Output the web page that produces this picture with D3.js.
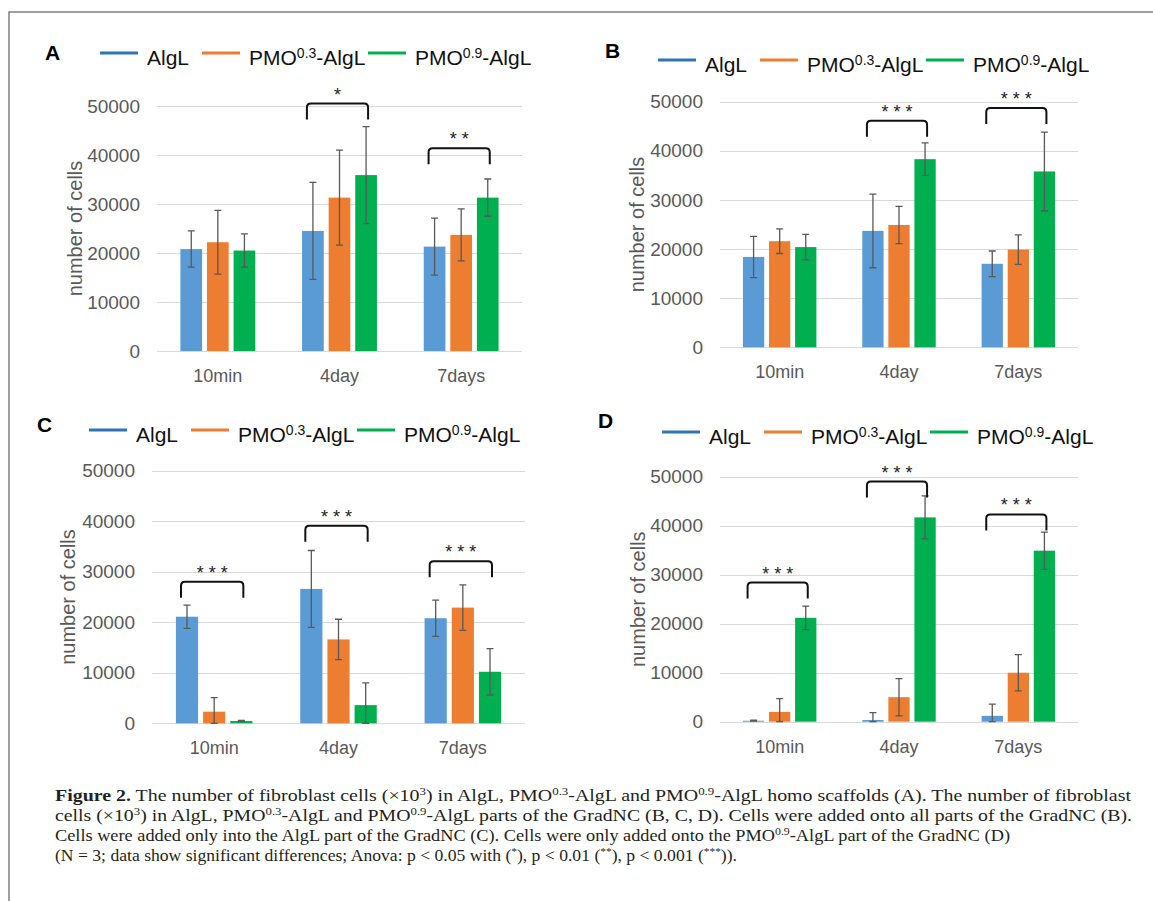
<!DOCTYPE html>
<html>
<head>
<meta charset="utf-8">
<script src="https://cdn.jsdelivr.net/npm/d3@7"></script>
<style>
  body { margin: 0; background: #fff; }
  svg { display: block; font-family: Arial, "Liberation Sans", sans-serif; }
</style>
</head>
<body>
<svg id="fig" width="1153" height="901"></svg>
<script>
// ---- data ----
const categories = ['10min', '4day', '7days'];
const seriesKeys = ['AlgL', 'PMO0.3-AlgL', 'PMO0.9-AlgL'];
// legend labels split as [before, superscript, after]
const seriesLabels = [['AlgL', '', ''], ['PMO', '0.3', '-AlgL'], ['PMO', '0.9', '-AlgL']];
const yTicks = [0, 10000, 20000, 30000, 40000, 50000];

// rows follow categories, columns follow seriesKeys
const valuesA = [[20800, 22200, 20500], [24500, 31300, 35900], [21300, 23700, 31300]];
const errorsA = [[3700, 6500, 3400], [9900, 9700, 9900], [5800, 5300, 3800]];
const bracketsA = [{ cat: '4day', level: 50500, stars: '*' }, { cat: '7days', level: 41400, stars: '**' }];

const valuesB = [[18400, 21600, 20400], [23700, 24900, 38300], [17000, 19900, 35800]];
const errorsB = [[4200, 2500, 2600], [7500, 3800, 3300], [2600, 3000, 8000]];
const bracketsB = [{ cat: '4day', level: 46100, stars: '***' }, { cat: '7days', level: 48700, stars: '***' }];

const valuesC = [[21100, 2300, 450], [26600, 16600, 3600], [20800, 22900, 10200]];
const errorsC = [[2300, 2800, 100], [7600, 4000, 4400], [3600, 4500, 4600]];
const bracketsC = [{ cat: '10min', level: 28000, stars: '***' }, { cat: '4day', level: 39100, stars: '***' }, { cat: '7days', level: 32100, stars: '***' }];

const valuesD = [[200, 2000, 21200], [350, 5000, 41700], [1200, 10000, 34900]];
const errorsD = [[100, 2700, 2400], [1500, 3800, 4400], [2400, 3700, 3800]];
const bracketsD = [{ cat: '10min', level: 28400, stars: '***' }, { cat: '4day', level: 49000, stars: '***' }, { cat: '7days', level: 42300, stars: '***' }];

// ---- styling / layout ----
const barColors = ['#5b9bd5', '#ed7d31', '#00b050'];
const legendColors = ['#2e75b6', '#ed7d31', '#00b050'];
const axisGray = '#595959';
const gridGray = '#d9d9d9';
const legendOffsets = [0, 102, 268];

const panels = [
    { key: 'A', values: valuesA, errors: errorsA, brackets: bracketsA,
      letter: [45, 60], legend: { x: 100, lineY: 53, textY: 65 },
      plot: { x0: 157, x1: 522, top: 106, bottom: 351 }, ylabelX: 75 },
    { key: 'B', values: valuesB, errors: errorsB, brackets: bracketsB,
      letter: [605, 58], legend: { x: 658, lineY: 60, textY: 72 },
      plot: { x0: 720, x1: 1078, top: 101.7, bottom: 347.3 }, ylabelX: 637 },
    { key: 'C', values: valuesC, errors: errorsC, brackets: bracketsC,
      letter: [37, 432], legend: { x: 89, lineY: 430, textY: 442 },
      plot: { x0: 152, x1: 525, top: 470.7, bottom: 723.3 }, ylabelX: 68 },
    { key: 'D', values: valuesD, errors: errorsD, brackets: bracketsD,
      letter: [598, 428], legend: { x: 662, lineY: 432, textY: 443.5 },
      plot: { x0: 720, x1: 1078, top: 476.7, bottom: 721.7 }, ylabelX: 638 }
];

const svg = d3.select('#fig');

// figure frame (top and left edges only are visible in the crop)
svg.append('path')
    .attr('d', 'M9,901 V12 H1153')
    .attr('fill', 'none')
    .attr('stroke', '#808080')
    .attr('stroke-width', 1.5);

function drawPanel(p) {
    const g = svg.append('g').attr('class', 'panel-' + p.key);

    const y = d3.scaleLinear().domain([0, 50000]).range([p.plot.bottom, p.plot.top]);
    const x0 = d3.scaleBand().domain(categories).range([p.plot.x0, p.plot.x1]);
    const x1 = d3.scaleBand().domain(seriesKeys).range([0, x0.bandwidth()])
        .paddingInner(0.184).paddingOuter(0.88);

    // gridlines
    g.append('g').selectAll('line')
        .data(yTicks)
        .join('line')
        .attr('x1', p.plot.x0).attr('x2', p.plot.x1)
        .attr('y1', d => Math.round(y(d)) + 0.5).attr('y2', d => Math.round(y(d)) + 0.5)
        .attr('stroke', gridGray).attr('stroke-width', 1);

    // y axis labels (axis generator, domain and ticks hidden)
    const yAxis = d3.axisLeft(y).tickValues(yTicks).tickSize(0).tickPadding(17).tickFormat(d3.format('d'));
    const ya = g.append('g').attr('transform', `translate(${p.plot.x0},0)`).call(yAxis);
    ya.select('.domain').remove();
    ya.selectAll('text').attr('fill', axisGray).style('font-size', '19px').style('font-family', 'Arial, "Liberation Sans", sans-serif');

    // x axis labels
    const xAxis = d3.axisBottom(x0).tickSize(0).tickPadding(0);
    const xa = g.append('g').attr('transform', `translate(0,${p.plot.bottom})`).call(xAxis);
    xa.select('.domain').remove();
    xa.selectAll('text').attr('fill', axisGray).attr('dy', null).attr('y', 31)
        .style('font-size', '18px').style('font-family', 'Arial, "Liberation Sans", sans-serif');

    // y axis title
    g.append('text')
        .attr('transform', `translate(${p.ylabelX},${(p.plot.top + p.plot.bottom) / 2}) rotate(-90)`)
        .attr('text-anchor', 'middle')
        .attr('dominant-baseline', 'central')
        .attr('fill', axisGray)
        .style('font-size', '20px')
        .text('number of cells');

    // bars
    const rows = [];
    categories.forEach((c, i) => {
        seriesKeys.forEach((s, j) => {
            rows.push({ cat: c, series: s, j, value: p.values[i][j], err: p.errors[i][j] });
        });
    });

    g.append('g').selectAll('rect')
        .data(rows)
        .join('rect')
        .attr('x', d => x0(d.cat) + x1(d.series))
        .attr('y', d => y(d.value))
        .attr('width', x1.bandwidth())
        .attr('height', d => y(0) - y(d.value))
        .attr('fill', d => barColors[d.j]);

    // error bars
    const eb = g.append('g').attr('stroke', axisGray).attr('stroke-width', 1.3).attr('fill', 'none');
    const cx = d => x0(d.cat) + x1(d.series) + x1.bandwidth() / 2;
    const hi = d => y(d.value + d.err);
    const lo = d => y(Math.max(0, d.value - d.err));
    eb.selectAll('path')
        .data(rows)
        .join('path')
        .attr('d', d => `M${cx(d)},${hi(d)}V${lo(d)}M${cx(d) - 3.5},${hi(d)}H${cx(d) + 3.5}M${cx(d) - 3.5},${lo(d)}H${cx(d) + 3.5}`);

    // significance brackets
    const bg = g.append('g');
    p.brackets.forEach(b => {
        const left = x0(b.cat) + x1(seriesKeys[0]) + x1.bandwidth() / 2 - 6;
        const right = x0(b.cat) + x1(seriesKeys[2]) + x1.bandwidth() / 2 + 2;
        const top = y(b.level);
        const leg = top + 16, r = 4;
        bg.append('path')
            .attr('d', `M${left},${leg}V${top + r}Q${left},${top} ${left + r},${top}H${right - r}Q${right},${top} ${right},${top + r}V${leg}`)
            .attr('fill', 'none')
            .attr('stroke', '#111')
            .attr('stroke-width', 2);
        bg.append('text')
            .attr('x', (left + right) / 2)
            .attr('y', top - 3)
            .attr('text-anchor', 'middle')
            .attr('fill', '#222')
            .style('font-size', '18px')
            .text(b.stars.split('').join(' '));
    });

    // panel letter
    g.append('text')
        .attr('x', p.letter[0]).attr('y', p.letter[1])
        .attr('fill', '#000')
        .style('font-size', '21px').style('font-weight', 'bold')
        .text(p.key);

    // legend
    const lg = g.append('g');
    seriesLabels.forEach((lab, j) => {
        const lx = p.legend.x + legendOffsets[j];
        lg.append('line')
            .attr('x1', lx).attr('x2', lx + 38)
            .attr('y1', p.legend.lineY).attr('y2', p.legend.lineY)
            .attr('stroke', legendColors[j]).attr('stroke-width', 3);
        const t = lg.append('text')
            .attr('x', lx + 47).attr('y', p.legend.textY)
            .attr('fill', '#111')
            .style('font-size', '21px');
        t.append('tspan').text(lab[0]);
        if (lab[1]) {
            t.append('tspan').attr('dy', -7).style('font-size', '14px').text(lab[1]);
            t.append('tspan').attr('dy', 7).text(lab[2]);
        }
    });
}

panels.forEach(drawPanel);

// ---- caption ----
const captionLines = [
    { y: 801, len: 1076, parts: [['b', 'Figure 2.'], ['', ' The number of fibroblast cells (\u00d710'], ['s', '3'], ['', ') in AlgL, PMO'], ['s', '0.3'], ['', '-AlgL and PMO'], ['s', '0.9'], ['', '-AlgL homo scaffolds (A). The number of fibroblast']] },
    { y: 821, len: 1077, parts: [['', 'cells (\u00d710'], ['s', '3'], ['', ') in AlgL, PMO'], ['s', '0.3'], ['', '-AlgL and PMO'], ['s', '0.9'], ['', '-AlgL parts of the GradNC (B, C, D). Cells were added onto all parts of the GradNC (B).']] },
    { y: 841, len: 955, parts: [['', 'Cells were added only into the AlgL part of the GradNC (C). Cells were only added onto the PMO'], ['s', '0.9'], ['', '-AlgL part of the GradNC (D)']] },
    { y: 861, len: 682, parts: [['', '(N = 3; data show significant differences; Anova: p < 0.05 with ('], ['s', '*'], ['', '), p < 0.01 ('], ['s', '**'], ['', '), p < 0.001 ('], ['s', '***'], ['', ')).']] }
];

const cap = svg.append('g').style('font-family', '"Liberation Serif", "Times New Roman", serif').attr('fill', '#231f20');
captionLines.forEach(line => {
    const t = cap.append('text')
        .attr('x', 55).attr('y', line.y)
        .attr('textLength', line.len)
        .attr('lengthAdjust', 'spacingAndGlyphs')
        .style('font-size', '17px');
    let raised = false;
    line.parts.forEach(([kind, str]) => {
        const ts = t.append('tspan').text(str);
        if (kind === 'b') ts.style('font-weight', 'bold');
        if (kind === 's') {
            ts.attr('dy', -6).style('font-size', '11px');
            raised = true;
        } else if (raised) {
            ts.attr('dy', 6);
            raised = false;
        }
    });
});
</script>
</body>
</html>
